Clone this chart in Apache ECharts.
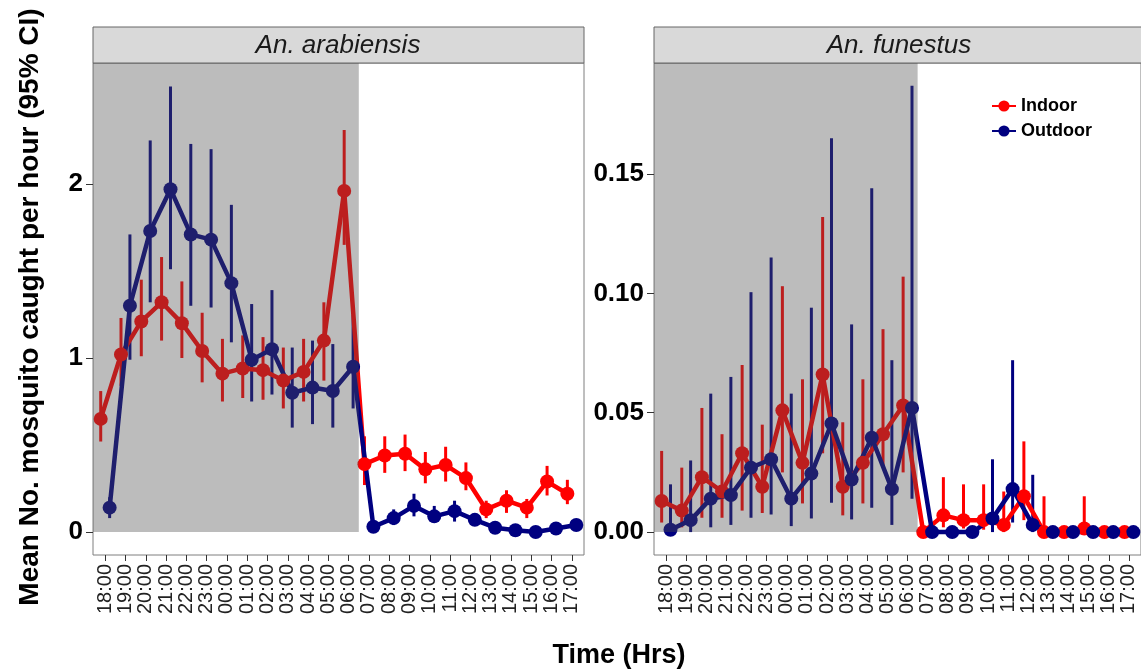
<!DOCTYPE html>
<html>
<head>
    <meta charset="utf-8">
    <script src="https://cdn.jsdelivr.net/npm/echarts@6/dist/echarts.min.js"></script>
    <style>
        html, body { margin: 0; padding: 0; background: #fff; }
    </style>
</head>
<body>
    <div id="main" style="width: 1141px;height:669px;"></div>

<script type="text/javascript">
// hours on the x axis
var hours = ['18:00','19:00','20:00','21:00','22:00','23:00','00:00','01:00','02:00','03:00','04:00','05:00',
             '06:00','07:00','08:00','09:00','10:00','11:00','12:00','13:00','14:00','15:00','16:00','17:00'];

// An. arabiensis
var arabIn    = [0.65, 1.02, 1.21, 1.32, 1.20, 1.04, 0.91, 0.94, 0.93, 0.87, 0.92, 1.10, 1.96, 0.39, 0.44, 0.45, 0.36, 0.385, 0.31, 0.13, 0.18, 0.14, 0.29, 0.22];
var arabInLo  = [0.52, 0.84, 1.01, 1.10, 1.00, 0.86, 0.75, 0.77, 0.76, 0.71, 0.75, 0.87, 1.65, 0.27, 0.34, 0.35, 0.28, 0.29, 0.24, 0.08, 0.11, 0.08, 0.21, 0.16];
var arabInHi  = [0.81, 1.23, 1.45, 1.58, 1.44, 1.26, 1.11, 1.13, 1.12, 1.06, 1.11, 1.32, 2.31, 0.55, 0.55, 0.56, 0.46, 0.49, 0.40, 0.18, 0.24, 0.19, 0.38, 0.30];
var arabOut   = [0.14, 1.30, 1.73, 1.97, 1.71, 1.68, 1.43, 0.99, 1.05, 0.80, 0.83, 0.81, 0.95, 0.03, 0.08, 0.15, 0.09, 0.12, 0.07, 0.025, 0.01, 0.0, 0.02, 0.04];
var arabOutLo = [0.08, 0.99, 1.32, 1.51, 1.30, 1.29, 1.09, 0.75, 0.79, 0.60, 0.62, 0.60, 0.71, 0.01, 0.04, 0.09, 0.06, 0.06, 0.04, 0.01, 0.0, 0.0, 0.01, 0.02];
var arabOutHi = [0.20, 1.71, 2.25, 2.56, 2.23, 2.20, 1.88, 1.31, 1.39, 1.06, 1.10, 1.08, 1.25, 0.06, 0.13, 0.22, 0.15, 0.18, 0.10, 0.04, 0.02, 0.01, 0.04, 0.06];

// An. funestus
var funIn    = [0.013, 0.009, 0.023, 0.017, 0.033, 0.019, 0.051, 0.029, 0.066, 0.019, 0.029, 0.041, 0.053, 0, 0.007, 0.005, 0.005, 0.003, 0.015, 0, 0, 0.0015, 0, 0];
var funInLo  = [0.004, 0.002, 0.006, 0.006, 0.009, 0.008, 0.025, 0.012, 0.033, 0.007, 0.012, 0.028, 0.025, 0, 0.002, 0.0015, 0.001, 0, 0.005, 0, 0, 0, 0, 0];
var funInHi  = [0.034, 0.027, 0.052, 0.041, 0.070, 0.045, 0.103, 0.064, 0.132, 0.046, 0.064, 0.085, 0.107, 0, 0.023, 0.020, 0.020, 0.017, 0.038, 0.015, 0, 0.015, 0, 0];
var funOut   = [0.001, 0.005, 0.014, 0.0155, 0.027, 0.0305, 0.014, 0.0245, 0.0455, 0.022, 0.0395, 0.018, 0.052, 0, 0, 0, 0.0057, 0.018, 0.003, 0, 0, 0, 0, 0];
var funOutLo = [0, 0, 0.002, 0.003, 0.006, 0.0074, 0.0025, 0.0057, 0.0123, 0.0053, 0.0102, 0.003, 0.014, 0, 0, 0, 0, 0.004, 0, 0, 0, 0, 0, 0];
var funOutHi = [0.020, 0.030, 0.058, 0.065, 0.1005, 0.115, 0.058, 0.094, 0.165, 0.087, 0.144, 0.072, 0.187, 0, 0, 0, 0.0305, 0.072, 0.024, 0, 0, 0, 0, 0];

var arabTicks = [0, 1, 2];
var funTicks = [0, 0.05, 0.10, 0.15];

var RED = '#FF0000', NAVY = '#000080';
var DODGE = 0.22;
var FONT = '"Liberation Sans", Arial, sans-serif';
var idx = hours.map(function (h, i) { return i; });

function pts(vals, off) {
    return vals.map(function (v, i) { return [i + off, v]; });
}
function cis(lo, hi, off) {
    return lo.map(function (v, i) { return [i + off, v, hi[i]]; });
}
function barRender(color) {
    return function (params, api) {
        var a = api.coord([api.value(0), api.value(1)]);
        var b = api.coord([api.value(0), api.value(2)]);
        return { type: 'line', shape: { x1: a[0], y1: a[1], x2: b[0], y2: b[1] },
                 style: { stroke: color, lineWidth: 3 } };
    };
}
function shadeRender(params, api) {
    var p0 = api.coord([api.value(0), api.value(3)]);
    var p1 = api.coord([api.value(1), api.value(2)]);
    return { type: 'rect', shape: { x: p0[0], y: p0[1], width: p1[0] - p0[0], height: p1[1] - p0[1] },
             style: { fill: 'rgba(80,80,80,0.38)' } };
}

function xAx(gi) {
    return {
        type: 'value', gridIndex: gi, min: -0.6, max: 23.6,
        splitLine: { show: false }, axisLine: { show: false, onZero: false },
        axisTick: { show: true, length: 6, lineStyle: { color: '#333' }, customValues: idx },
        axisLabel: { rotate: 90, fontSize: 20, color: '#222', fontFamily: FONT, margin: 9,
                     customValues: idx, formatter: function (v) { return hours[Math.round(v)]; } }
    };
}
function yAx(gi, mn, mx, ticks, dec) {
    return {
        type: 'value', gridIndex: gi, min: mn, max: mx,
        splitLine: { show: false }, axisLine: { show: false, onZero: false },
        axisTick: { show: true, length: 7, lineStyle: { color: '#333' }, customValues: ticks },
        axisLabel: { fontSize: 26, fontWeight: 'bold', color: '#000', fontFamily: FONT, margin: 10,
                     customValues: ticks, formatter: function (v) { return v.toFixed(dec); } }
    };
}
function lineSeries(name, gi, data, color) {
    return {
        name: name, type: 'line', xAxisIndex: gi, yAxisIndex: gi, data: data,
        symbol: 'circle', symbolSize: 14, z: 3,
        itemStyle: { color: color }, lineStyle: { color: color, width: 4.5 }
    };
}
function barSeries(gi, data, color) {
    return { type: 'custom', xAxisIndex: gi, yAxisIndex: gi, data: data, z: 2, silent: true,
             encode: { x: 0, y: [1, 2] }, renderItem: barRender(color) };
}
function shadeSeries(gi, ymax) {
    return { type: 'custom', xAxisIndex: gi, yAxisIndex: gi, data: [[-0.6, 12.5, 0, ymax]], z: 10,
             silent: true, encode: { x: [0, 1], y: [2, 3] }, renderItem: shadeRender };
}

var arabMin = -0.132, arabMax = 2.695;
var funMin = -0.0096, funMax = 0.1965;

var myChart = echarts.init(document.getElementById('main'));
var option = {
    backgroundColor: '#fff',
    animation: false,
    grid: [
        { left: 93, top: 63, width: 491, height: 492, show: true, borderColor: '#7f7f7f', borderWidth: 1, backgroundColor: 'transparent' },
        { left: 654, top: 63, width: 491, height: 492, show: true, borderColor: '#7f7f7f', borderWidth: 1, backgroundColor: 'transparent' }
    ],
    xAxis: [xAx(0), xAx(1)],
    yAxis: [yAx(0, arabMin, arabMax, arabTicks, 0), yAx(1, funMin, funMax, funTicks, 2)],
    legend: {
        data: ['Indoor', 'Outdoor'], orient: 'vertical', left: 986, top: 92,
        itemWidth: 24, itemHeight: 14, itemGap: 7,
        textStyle: { fontSize: 18, fontWeight: 'bold', color: '#000', fontFamily: FONT }
    },
    graphic: [
        { type: 'rect', shape: { x: 93, y: 27, width: 491, height: 36 }, style: { fill: '#D9D9D9', stroke: '#666', lineWidth: 1 } },
        { type: 'text', x: 338, y: 46, style: { text: 'An. arabiensis', fontSize: 26, fontStyle: 'italic', fill: '#1a1a1a', fontFamily: FONT, align: 'center', verticalAlign: 'middle' } },
        { type: 'rect', shape: { x: 654, y: 27, width: 491, height: 36 }, style: { fill: '#D9D9D9', stroke: '#666', lineWidth: 1 } },
        { type: 'text', x: 899, y: 46, style: { text: 'An. funestus', fontSize: 26, fontStyle: 'italic', fill: '#1a1a1a', fontFamily: FONT, align: 'center', verticalAlign: 'middle' } },
        { type: 'text', x: 30, y: 307, rotation: Math.PI / 2, style: { text: 'Mean No. mosquito caught per hour (95% CI)', fontSize: 28, fontWeight: 'bold', fill: '#000', fontFamily: FONT, align: 'center', verticalAlign: 'middle' } },
        { type: 'text', x: 619, y: 656, style: { text: 'Time (Hrs)', fontSize: 27, fontWeight: 'bold', fill: '#000', fontFamily: FONT, align: 'center', verticalAlign: 'middle' } }
    ],
    series: [
        barSeries(0, cis(arabInLo, arabInHi, -DODGE), RED),
        barSeries(0, cis(arabOutLo, arabOutHi, DODGE), NAVY),
        lineSeries('Indoor', 0, pts(arabIn, -DODGE), RED),
        lineSeries('Outdoor', 0, pts(arabOut, DODGE), NAVY),
        shadeSeries(0, arabMax),
        barSeries(1, cis(funInLo, funInHi, -DODGE), RED),
        barSeries(1, cis(funOutLo, funOutHi, DODGE), NAVY),
        lineSeries('Indoor', 1, pts(funIn, -DODGE), RED),
        lineSeries('Outdoor', 1, pts(funOut, DODGE), NAVY),
        shadeSeries(1, funMax)
    ]
};
myChart.setOption(option);
</script>
</body>
</html>
